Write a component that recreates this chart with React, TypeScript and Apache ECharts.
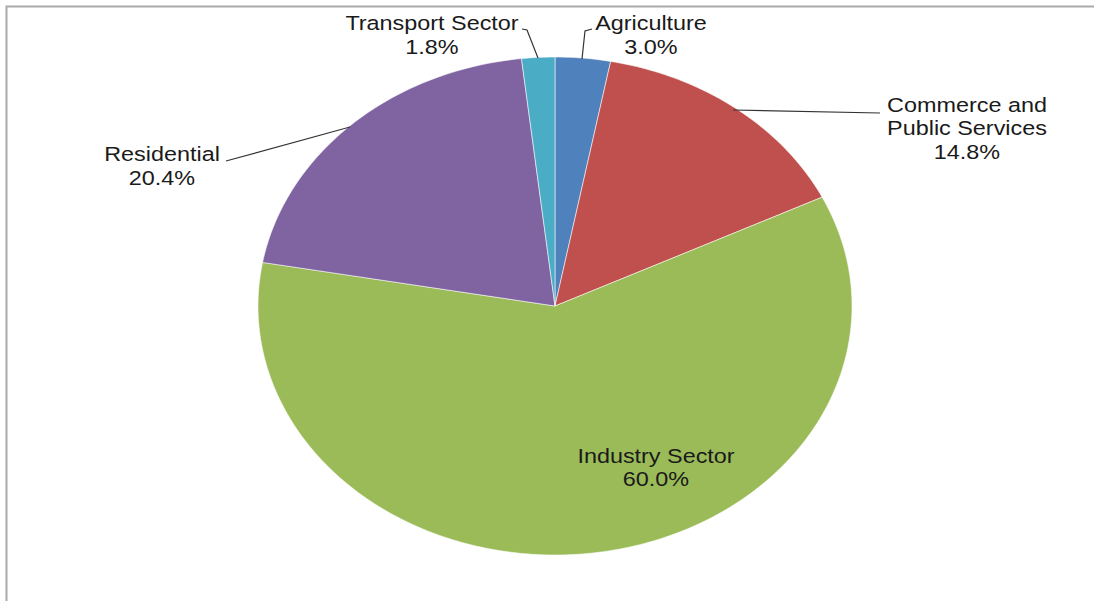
import React, { useEffect, useRef } from "react";
import * as echarts from "echarts";

// ---- data ----
const categories = [
  "Agriculture",
  "Commerce and\nPublic Services",
  "Industry Sector",
  "Residential",
  "Transport Sector",
];
const shares = [3.0, 14.8, 60.0, 20.4, 1.8];
const colors = ["#4F81BD", "#C0504D", "#9BBB59", "#8064A2", "#4BACC6"];

// ---- layout (not data) ----
const CX = 555;
const CY = 306;
const RX = 297;
const RY = 249;
const TEXT_SCALE_X = 1.2;
const FONT_SIZE = 19.5;

const labelLayout: { x: number; y: number; line: number[][] | null }[] = [
  { x: 651, y: 35.5, line: [[592, 29], [585, 31], [582, 59]] },
  { x: 967, y: 129, line: [[733, 110], [880, 113]] },
  { x: 656, y: 468, line: null },
  { x: 162, y: 166.5, line: [[226, 161], [350, 127]] },
  { x: 432, y: 35.5, line: [[522, 29], [527, 30], [538, 58]] },
];

const total = shares.reduce((a, b) => a + b, 0);
const cumulativeStart: number[] = [];
shares.reduce((acc, v, i) => {
  cumulativeStart[i] = acc;
  return acc + v;
}, 0);

export default function App() {
  const ref = useRef<HTMLDivElement>(null);

  useEffect(() => {
    document.body.style.margin = "0";
    if (!ref.current) return;
    const chart = echarts.init(ref.current, undefined, { renderer: "svg" });

    const option: any = {
      animation: false,
      backgroundColor: "#ffffff",
      graphic: [
        {
          type: "rect",
          shape: { x: 6.5, y: 6.5, width: 1300, height: 800 },
          style: { fill: "none", stroke: "#aaaaaa", lineWidth: 2 },
          silent: true,
          z: 0,
        },
      ],
      series: [
        {
          type: "custom",
          coordinateSystem: "none",
          data: shares.map((v, i) => [v, i]),
          renderItem: (params: any, api: any) => {
            const i = params.dataIndex;
            const v = api.value(0);
            const a0 = (cumulativeStart[i] / total) * Math.PI * 2;
            const a1 = a0 + (v / total) * Math.PI * 2;
            const n = Math.max(4, Math.ceil(((a1 - a0) / (Math.PI * 2)) * 360));
            const pts: number[][] = [[CX, CY]];
            for (let k = 0; k <= n; k++) {
              const t = a0 + ((a1 - a0) * k) / n;
              pts.push([CX + RX * Math.sin(t), CY - RY * Math.cos(t)]);
            }
            const lay = labelLayout[i];
            const children: any[] = [
              {
                type: "polygon",
                shape: { points: pts },
                style: {
                  fill: colors[i],
                  stroke: "rgba(255,255,255,0.55)",
                  lineWidth: 1,
                },
              },
              {
                type: "text",
                x: lay.x,
                y: lay.y,
                scaleX: TEXT_SCALE_X,
                z2: 20,
                style: {
                  x: 0,
                  y: 0,
                  text: `${categories[i]}\n${v.toFixed(1)}%`,
                  fill: "#1a1a1a",
                  fontFamily: "'Liberation Sans', Arial, sans-serif",
                  fontSize: FONT_SIZE,
                  lineHeight: 23.5,
                  align: "center",
                  verticalAlign: "middle",
                },
              },
            ];
            if (lay.line) {
              children.push({
                type: "polyline",
                z2: 20,
                shape: { points: lay.line },
                style: { stroke: "#333333", lineWidth: 1.2, fill: "none" },
              });
            }
            return { type: "group", children };
          },
        },
      ],
    };

    chart.setOption(option);
    return () => {
      chart.dispose();
    };
  }, []);

  return <div ref={ref} style={{ width: 1094, height: 601 }} />;
}
